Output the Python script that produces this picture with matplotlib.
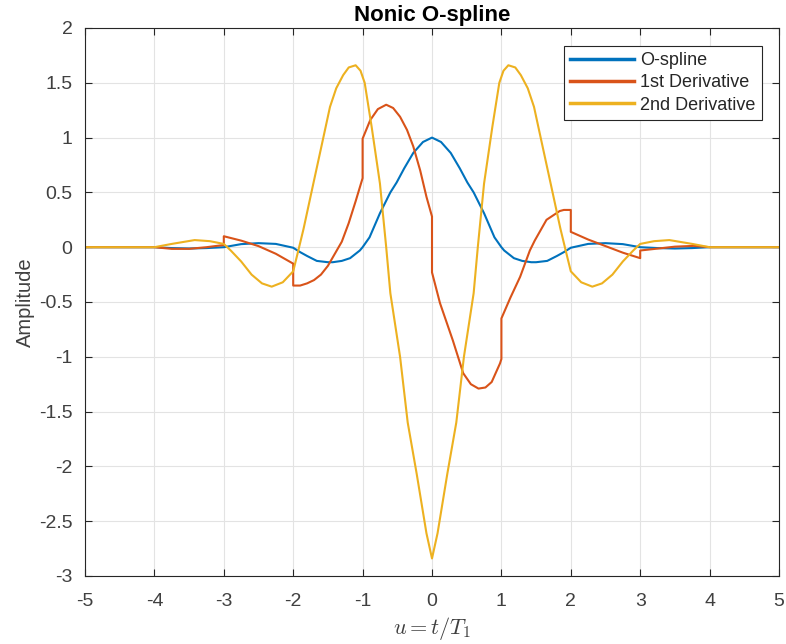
import numpy as np
import matplotlib
matplotlib.use('Agg')
import matplotlib.pyplot as plt

plt.rcParams['font.family'] = ['Liberation Sans', 'DejaVu Sans']
plt.rcParams['mathtext.fontset'] = 'cm'

# --- values ---
u_spline = [-5, -4, -3.75, -3.5, -3.25, -3.0, -2.75, -2.5, -2.25, -2.0, -1.9, -1.8,
            -1.66, -1.5, -1.43, -1.3, -1.18, -1.04, -1.0, -0.9, -0.75, -0.6, -0.51,
            -0.4, -0.27, -0.13, 0.0, 0.13, 0.27, 0.4, 0.51, 0.6, 0.75, 0.9, 1.0,
            1.04, 1.18, 1.3, 1.43, 1.5, 1.66, 1.8, 1.9, 2.0, 2.25, 2.5, 2.75, 3.0,
            3.25, 3.5, 3.75, 4, 5]
spline = [0, 0, -0.008, -0.012, -0.008, 0.0, 0.028, 0.037, 0.03, -0.005, -0.045, -0.08,
          -0.125, -0.137, -0.137, -0.125, -0.10, -0.03, 0.0, 0.09, 0.31, 0.5, 0.59,
          0.72, 0.86, 0.96, 1.0, 0.96, 0.86, 0.72, 0.59, 0.5, 0.31, 0.09, 0.0,
          -0.03, -0.10, -0.125, -0.137, -0.137, -0.125, -0.08, -0.045, -0.005, 0.03, 0.037, 0.028, 0.0,
          -0.008, -0.012, -0.008, 0, 0]

u_d1 = [-5, -4, -3.75, -3.5, -3.25, -3.0, -3.0, -2.75, -2.5, -2.25, -2.0, -2.0,
        -1.9, -1.8, -1.7, -1.6, -1.5, -1.4, -1.3, -1.2, -1.1, -1.0, -1.0,
        -0.89, -0.78, -0.66, -0.56, -0.46, -0.36, -0.27, -0.17, -0.08, 0.0, 0.0,
        0.115, 0.3, 0.45, 0.56, 0.67, 0.77, 0.86, 0.98, 1.0, 1.0,
        1.13, 1.27, 1.41, 1.48, 1.65, 1.84, 1.9, 2.0, 2.0, 2.25, 2.5, 2.75, 3.0, 3.0,
        3.29, 3.5, 3.77, 4.0, 5]
d1 = [0, 0, -0.015, -0.015, 0.0, 0.02, 0.10, 0.06, 0.01, -0.06, -0.15, -0.35,
      -0.35, -0.33, -0.30, -0.25, -0.17, -0.06, 0.05, 0.22, 0.42, 0.63, 0.99,
      1.16, 1.26, 1.30, 1.27, 1.19, 1.07, 0.92, 0.70, 0.46, 0.28, -0.23,
      -0.51, -0.85, -1.15, -1.25, -1.29, -1.28, -1.23, -1.06, -1.02, -0.65,
      -0.46, -0.27, -0.03, 0.06, 0.25, 0.33, 0.34, 0.34, 0.14, 0.07, 0.01, -0.05, -0.10, -0.03,
      -0.01, 0.005, 0.012, 0.0, 0]

u_d2 = [-5, -4, -3.75, -3.42, -3.2, -3.0, -2.9, -2.75, -2.6, -2.45, -2.31, -2.15,
        -2.0, -1.93, -1.85, -1.71, -1.6, -1.47, -1.38, -1.28, -1.2, -1.1, -1.03,
        -0.97, -0.87, -0.75, -0.66, -0.6, -0.46, -0.35, -0.22, -0.08, 0.0, 0.08,
        0.22, 0.35, 0.46, 0.6, 0.66, 0.75, 0.87, 0.97, 1.03, 1.1, 1.2, 1.28,
        1.38, 1.47, 1.6, 1.71, 1.85, 1.93, 2.0, 2.15, 2.31, 2.45, 2.6, 2.75,
        2.9, 3.0, 3.2, 3.42, 3.75, 4, 5]
d2 = [0, 0, 0.03, 0.065, 0.055, 0.03, -0.03, -0.13, -0.25, -0.33, -0.36, -0.32,
      -0.22, -0.04, 0.17, 0.58, 0.9, 1.28, 1.45, 1.57, 1.64, 1.66, 1.61,
      1.50, 1.10, 0.58, 0.0, -0.42, -1.0, -1.6, -2.07, -2.61, -2.84, -2.61,
      -2.07, -1.6, -1.0, -0.42, 0.0, 0.58, 1.10, 1.50, 1.61, 1.66, 1.64, 1.57,
      1.45, 1.28, 0.9, 0.58, 0.17, -0.04, -0.22, -0.32, -0.36, -0.33, -0.25, -0.13,
      -0.03, 0.03, 0.055, 0.065, 0.03, 0, 0]

labels = ['O-spline', '1st Derivative', '2nd Derivative']
colors = ['#0072BD', '#D95319', '#EDB120']

fig = plt.figure(figsize=(7.86, 6.44), dpi=100)
ax = fig.add_axes([85/786, 1 - 576/644, 694/786, 548/644])

ax.plot(u_spline, spline, color=colors[0], lw=1.5, label=labels[0])
ax.plot(u_d1, d1, color=colors[1], lw=1.5, label=labels[1])
ax.plot(u_d2, d2, color=colors[2], lw=1.5, label=labels[2])

ax.set_xlim(-5, 5)
ax.set_ylim(-3, 2)
ax.set_xticks(np.arange(-5, 6, 1))
ax.set_yticks(np.arange(-3, 2.01, 0.5))
ax.set_yticklabels(['-3', '-2.5', '-2', '-1.5', '-1', '-0.5', '0', '0.5', '1', '1.5', '2'])
ax.set_xticklabels([str(v) for v in range(-5, 6)])
ax.grid(True, color='#e3e3e3', lw=0.8)
ax.set_axisbelow(True)
ax.tick_params(direction='in', top=True, right=True, length=5, width=0.8,
               colors='#262626', labelcolor='#404040', labelsize=14)
ax.tick_params(axis='x', pad=12)
ax.tick_params(axis='y', pad=9)
for s in ax.spines.values():
    s.set_color('#262626')
    s.set_linewidth(0.8)

ax.set_title('Nonic O-spline', fontsize=16, fontweight='bold', pad=5)
ax.set_xlabel(r'$u = t/T_1$', fontsize=16, color='#404040', labelpad=4)
ax.set_ylabel('Amplitude', fontsize=14.5, color='#404040', labelpad=3)

leg = ax.legend(loc='upper right', bbox_to_anchor=(0.975, 0.967), borderaxespad=0,
                fontsize=13, fancybox=False, edgecolor='#262626', framealpha=1,
                handlelength=3.5, handletextpad=0.35, labelspacing=0.28, borderpad=0.35)
leg.get_frame().set_linewidth(0.8)
for line in leg.get_lines():
    line.set_linewidth(2.5)
for t in leg.get_texts():
    t.set_color('#262626')

fig.savefig('out.png', dpi=100)
